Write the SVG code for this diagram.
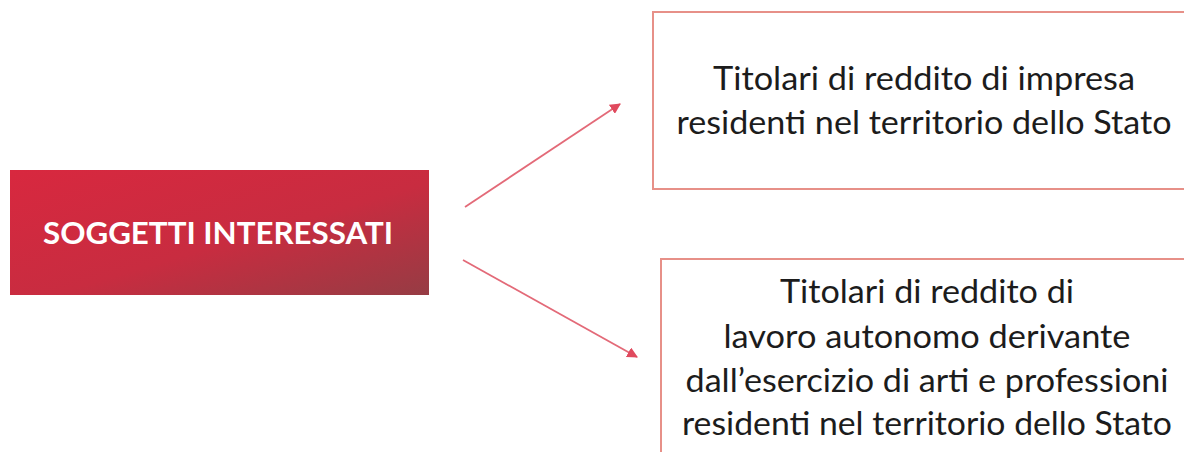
<svg xmlns="http://www.w3.org/2000/svg" width="1184" height="452" viewBox="0 0 1184 452">
  <defs>
    <linearGradient id="redGrad" x1="0" y1="0" x2="1" y2="1">
      <stop offset="0" stop-color="#d8283f"/>
      <stop offset="0.55" stop-color="#c82c40"/>
      <stop offset="1" stop-color="#963c44"/>
    </linearGradient>
    <marker id="arrow" viewBox="0 0 10 10" refX="9" refY="5" markerWidth="6" markerHeight="6" markerUnits="strokeWidth" orient="auto">
      <path d="M0,0 L10,5 L0,10 Z" fill="#e04a5e"/>
    </marker>
  </defs>
  <style>
    .box { fill: #ffffff; stroke: #e79088; stroke-width: 2; }
    .txt { font-family: Lato, "Open Sans", "Liberation Sans", sans-serif; font-size: 32px; fill: #1c1c1c; text-anchor: middle; }
    .title { font-family: Lato, "Open Sans", "Liberation Sans", sans-serif; font-size: 31px; font-weight: bold; fill: #ffffff; text-anchor: middle; }
    .conn { stroke: #e36a78; stroke-width: 1.8; fill: none; marker-end: url(#arrow); }
  </style>
  <rect width="1184" height="452" fill="#ffffff"/>

  <g id="soggetti">
    <rect x="10" y="170" width="419" height="125" fill="url(#redGrad)"/>
    <text class="title" x="218" y="244" textLength="350" lengthAdjust="spacingAndGlyphs">SOGGETTI INTERESSATI</text>
  </g>

  <g id="impresa">
    <rect class="box" x="653" y="12" width="545" height="177"/>
    <text class="txt" x="924" y="90" textLength="422" lengthAdjust="spacingAndGlyphs">Titolari di reddito di impresa</text>
    <text class="txt" x="924" y="134" textLength="495" lengthAdjust="spacingAndGlyphs">residenti nel territorio dello Stato</text>
  </g>

  <g id="lavoro">
    <rect class="box" x="661" y="259" width="540" height="210"/>
    <text class="txt" x="927" y="303" textLength="294" lengthAdjust="spacingAndGlyphs">Titolari di reddito di</text>
    <text class="txt" x="927" y="348" textLength="407" lengthAdjust="spacingAndGlyphs">lavoro autonomo derivante</text>
    <text class="txt" x="927" y="392" textLength="483" lengthAdjust="spacingAndGlyphs">dall’esercizio di arti e professioni</text>
    <text class="txt" x="927" y="435" textLength="490" lengthAdjust="spacingAndGlyphs">residenti nel territorio dello Stato</text>
  </g>

  <g id="connectors">
    <line class="conn" x1="465" y1="207" x2="620" y2="104"/>
    <line class="conn" x1="463" y1="260" x2="637" y2="357"/>
  </g>
</svg>
